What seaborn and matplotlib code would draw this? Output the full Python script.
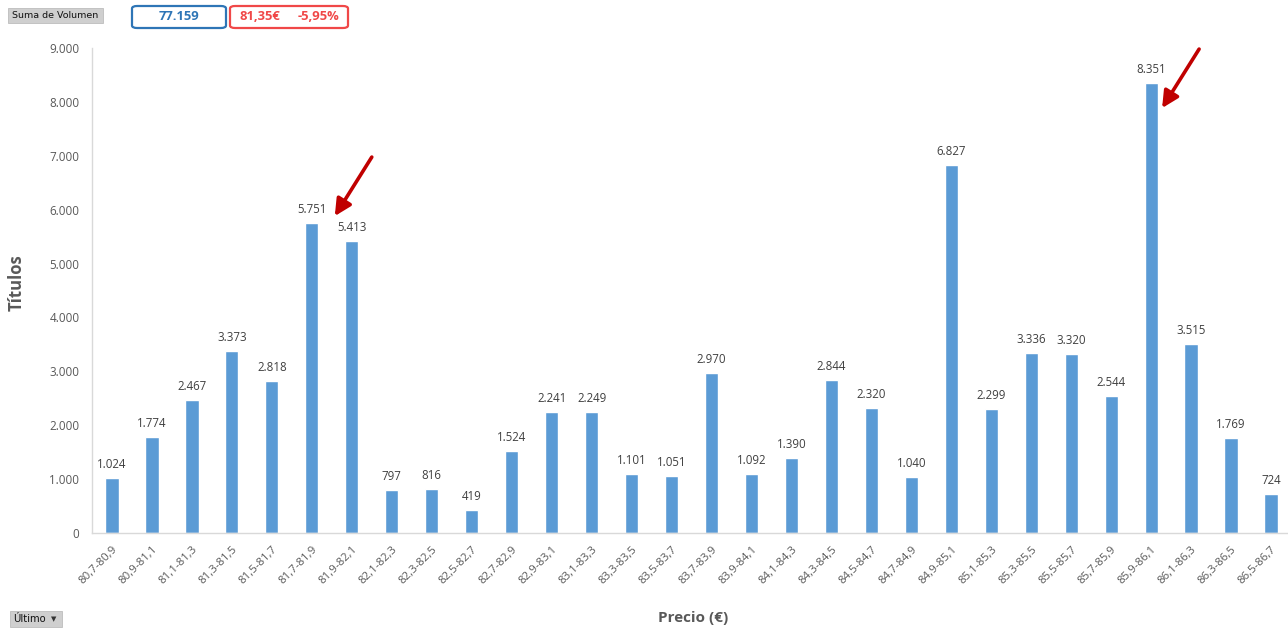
import matplotlib
matplotlib.use("Agg")
import matplotlib.pyplot as plt
from matplotlib.patches import FancyBboxPatch, Rectangle
import seaborn as sns
import pandas as pd

categories = ["80,7-80,9", "80,9-81,1", "81,1-81,3", "81,3-81,5", "81,5-81,7",
              "81,7-81,9", "81,9-82,1", "82,1-82,3", "82,3-82,5", "82,5-82,7",
              "82,7-82,9", "82,9-83,1", "83,1-83,3", "83,3-83,5", "83,5-83,7",
              "83,7-83,9", "83,9-84,1", "84,1-84,3", "84,3-84,5", "84,5-84,7",
              "84,7-84,9", "84,9-85,1", "85,1-85,3", "85,3-85,5", "85,5-85,7",
              "85,7-85,9", "85,9-86,1", "86,1-86,3", "86,3-86,5", "86,5-86,7"]
volumes = [1024, 1774, 2467, 3373, 2818, 5751, 5413, 797, 816, 419,
           1524, 2241, 2249, 1101, 1051, 2970, 1092, 1390, 2844, 2320,
           1040, 6827, 2299, 3336, 3320, 2544, 8351, 3515, 1769, 724]
y_ticks = [0, 1000, 2000, 3000, 4000, 5000, 6000, 7000, 8000, 9000]
arrow_bars = ["81,7-81,9", "85,9-86,1"]
last_price = "81,35€"
change = "-5,95%"


def fmt(v):
    return f"{v:,}".replace(",", ".")


sns.set_theme(style="white")
plt.rcParams["font.family"] = ["Open Sans", "DejaVu Sans"]

df = pd.DataFrame({"Precio": categories, "Volumen": volumes})

fig = plt.figure(figsize=(12.88, 6.34), dpi=100)
ax = fig.add_axes([92 / 1288, 101 / 634, 1199 / 1288, 485 / 634])

sns.barplot(data=df, x="Precio", y="Volumen", color="#5B9BD5", saturation=1,
            width=0.33, ax=ax)

ax.set_xlim(-0.5, len(categories) - 0.5)
ax.set_ylim(0, 9000)
ax.set_yticks(y_ticks)
ax.set_yticklabels([fmt(t) for t in y_ticks], fontsize=8.4, color="#595959")
ax.set_xticks(range(len(categories)))
ax.set_xticklabels(categories, rotation=45, ha="right", rotation_mode="anchor",
                   fontsize=8.2, color="#595959")
ax.tick_params(axis="both", length=0)
ax.tick_params(axis="y", pad=9)
ax.tick_params(axis="x", pad=8)

for s in ["top", "right"]:
    ax.spines[s].set_visible(False)
for s in ["left", "bottom"]:
    ax.spines[s].set_color("#D9D9D9")
    ax.spines[s].set_linewidth(1)

for i, v in enumerate(volumes):
    ax.annotate(fmt(v), (i, v), xytext=(0, 7), textcoords="offset pixels",
                ha="center", va="bottom", fontsize=8.3, color="#404040")

ax.set_xlabel("Precio (€)", fontsize=11, fontweight="bold", color="#595959",
              labelpad=0)
ax.xaxis.set_label_coords((693 - 92) / 1199, -(611 - 533) / 485)
ax.set_ylabel("Títulos", fontsize=12, fontweight="bold", color="#595959")
ax.yaxis.set_label_coords(-(92 - 26) / 1199, (533 - 283) / 485)

# red arrows
offsets = {"81,7-81,9": (0.575, 130), "85,9-86,1": (0.275, -466)}
for name in arrow_bars:
    i = categories.index(name)
    dx, dy = offsets[name]
    ax.annotate("", xy=(i + dx, volumes[i] + dy), xytext=(37, 59),
                textcoords="offset pixels",
                arrowprops=dict(arrowstyle="-|>,head_length=0.5,head_width=0.25",
                                color="#C00000", lw=2.6,
                                mutation_scale=20, shrinkA=0, shrinkB=0))

W, H = 1288, 634


def fx(x):
    return x / W


def fy(y):
    return 1 - y / H


# "Suma de Volumen" button
fig.patches.append(Rectangle((fx(8), fy(23)), fx(95), 15 / H, transform=fig.transFigure,
                             facecolor="#CFCFCF", edgecolor="#BDBDBD", lw=0.6))
fig.text(fx(12), fy(15.5), "Suma de Volumen", fontsize=6.8, color="#111111",
         ha="left", va="center", family=["DejaVu Sans"])

# total box
fig.patches.append(FancyBboxPatch((fx(132), fy(28)), fx(94), 22 / H,
                                  boxstyle="round,pad=0,rounding_size=0.004",
                                  transform=fig.transFigure, facecolor="white",
                                  edgecolor="#2E75B6", lw=1.6))
fig.text(fx(179), fy(16.5), fmt(sum(volumes)), fontsize=9.4, fontweight="bold",
         color="#2E75B6", ha="center", va="center")

# price box
fig.patches.append(FancyBboxPatch((fx(230), fy(28)), fx(118), 22 / H,
                                  boxstyle="round,pad=0,rounding_size=0.004",
                                  transform=fig.transFigure, facecolor="white",
                                  edgecolor="#F04848", lw=1.6))
fig.text(fx(260), fy(16.5), last_price, fontsize=9.4,
         fontweight="bold", color="#F04848", ha="center", va="center")
fig.text(fx(318), fy(16.5), change, fontsize=9.4,
         fontweight="bold", color="#F04848", ha="center", va="center")

# "Último" button
fig.patches.append(Rectangle((fx(10), fy(627)), fx(52), 16 / H, transform=fig.transFigure,
                             facecolor="#CFCFCF", edgecolor="#BDBDBD", lw=0.6))
fig.text(fx(13), fy(619), "Último", fontsize=7.2, color="#111111", ha="left",
         va="center", family=["DejaVu Sans"])
fig.text(fx(54), fy(619), "▼", fontsize=5, color="#333333", ha="center",
         va="center", family=["DejaVu Sans"])

fig.savefig("out.png", dpi=100)
